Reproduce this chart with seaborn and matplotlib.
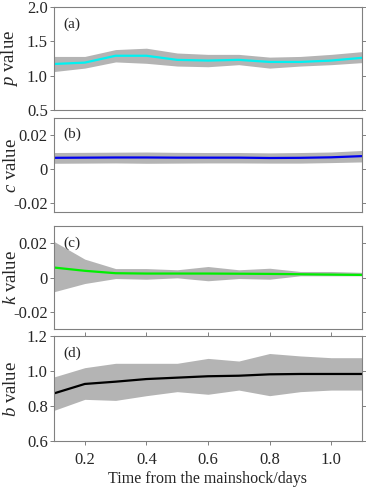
import numpy as np
import pandas as pd
import matplotlib
matplotlib.use("Agg")
import matplotlib.pyplot as plt
import seaborn as sns

sns.set_style("ticks")
plt.rcParams['font.family'] = ['Liberation Serif', 'DejaVu Serif']
plt.rcParams['mathtext.fontset'] = 'custom'
plt.rcParams['mathtext.rm'] = 'Liberation Serif'
plt.rcParams['mathtext.it'] = 'Liberation Serif:italic'

time = [0.1, 0.2, 0.3, 0.4, 0.5, 0.6, 0.7, 0.8, 0.9, 1.0, 1.1]

p_val = [1.17, 1.19, 1.29, 1.29, 1.23, 1.22, 1.23, 1.20, 1.20, 1.22, 1.26]
p_up = [1.28, 1.28, 1.38, 1.40, 1.33, 1.31, 1.31, 1.27, 1.28, 1.31, 1.35]
p_lo = [1.06, 1.11, 1.20, 1.18, 1.14, 1.13, 1.16, 1.11, 1.14, 1.16, 1.19]

c_val = [0.0067, 0.0068, 0.0069, 0.0069, 0.0068, 0.0068, 0.0068, 0.0066, 0.0067, 0.0070, 0.0077]
c_up = [0.0098, 0.0099, 0.0100, 0.0101, 0.0099, 0.0098, 0.0098, 0.0096, 0.0098, 0.0101, 0.0110]
c_lo = [0.0035, 0.0036, 0.0037, 0.0035, 0.0036, 0.0037, 0.0037, 0.0036, 0.0036, 0.0039, 0.0043]

k_val = [0.0058, 0.0039, 0.0025, 0.0023, 0.0023, 0.0023, 0.0022, 0.0021, 0.0019, 0.0017, 0.0015]
k_up = [0.0210, 0.0107, 0.0052, 0.0052, 0.0045, 0.0064, 0.0045, 0.0054, 0.0035, 0.0035, 0.0030]
k_lo = [-0.0083, -0.0035, -0.0006, -0.0010, -0.0002, -0.0019, -0.0006, -0.0010, 0.0010, 0.0010, 0.0010]

b_val = [0.872, 0.926, 0.939, 0.954, 0.962, 0.970, 0.973, 0.981, 0.983, 0.983, 0.983]
b_up = [0.966, 1.019, 1.044, 1.044, 1.044, 1.072, 1.057, 1.100, 1.086, 1.076, 1.076]
b_lo = [0.775, 0.838, 0.832, 0.859, 0.882, 0.867, 0.891, 0.859, 0.882, 0.891, 0.891]

x_ticks = [0.2, 0.4, 0.6, 0.8, 1.0]
x_ticklabels = ["0.2", "0.4", "0.6", "0.8", "1.0"]

panels = [
    dict(tag="(a)", y=p_val, up=p_up, lo=p_lo, color="#00f2f2", ylab=r"$\it{p}$ value",
         ylim=(0.5, 2.0), yticks=[0.5, 1.0, 1.5, 2.0], ytl=["0.5", "1.0", "1.5", "2.0"],
         box=(7, 110)),
    dict(tag="(b)", y=c_val, up=c_up, lo=c_lo, color="#0000ee", ylab=r"$\it{c}$ value",
         ylim=(-0.025, 0.03), yticks=[-0.02, 0, 0.02], ytl=["-0.02", "0", "0.02"],
         box=(118, 212)),
    dict(tag="(c)", y=k_val, up=k_up, lo=k_lo, color="#00ee00", ylab=r"$\it{k}$ value",
         ylim=(-0.03, 0.03), yticks=[-0.02, 0, 0.02], ytl=["-0.02", "0", "0.02"],
         box=(226, 329)),
    dict(tag="(d)", y=b_val, up=b_up, lo=b_lo, color="black", ylab=r"$\it{b}$ value",
         ylim=(0.6, 1.2), yticks=[0.6, 0.8, 1.0, 1.2], ytl=["0.6", "0.8", "1.0", "1.2"],
         box=(336, 441)),
]

W, H = 366, 487
fig = plt.figure(figsize=(W / 100, H / 100), dpi=100)
left, right = 54, 362
spine_col = "#808080"
fs = 12

for i, pnl in enumerate(panels):
    top, bot = pnl["box"]
    ax = fig.add_axes([left / W, 1 - bot / H, (right - left) / W, (bot - top) / H])
    df = pd.DataFrame({"t": time, "v": pnl["y"]})
    ax.fill_between(time, pnl["lo"], pnl["up"], color="#b4b4b4", lw=0)
    sns.lineplot(data=df, x="t", y="v", ax=ax, color=pnl["color"], lw=1.6)
    ax.set_xlim(0.1, 1.1)
    ax.set_ylim(*pnl["ylim"])
    ax.set_yticks(pnl["yticks"])
    ax.set_yticklabels(pnl["ytl"], fontsize=fs)
    ax.set_ylabel(pnl["ylab"], fontsize=13.5)
    for s in ax.spines.values():
        s.set_color(spine_col)
        s.set_linewidth(0.8)
    ax.tick_params(axis="y", direction="out", length=3, width=0.7, color=spine_col,
                   right=True, left=True, pad=1.5)
    ax.text(0.03, 0.9, pnl["tag"], transform=ax.transAxes, fontsize=11,
            va="top", ha="left")
    if i == 3:
        ax.set_xticks(x_ticks)
        ax.set_xticklabels(x_ticklabels, fontsize=fs)
        ax.tick_params(axis="x", direction="out", length=3, width=0.7, color=spine_col,
                       top=True, bottom=True, pad=5)
        ax.set_xlabel("Time from the mainshock/days", fontsize=11.5, labelpad=2)
    else:
        ax.set_xticks([])
        ax.set_xlabel("")
    ax.yaxis.set_label_coords((20 - left) / (right - left), 0.5)

fig.savefig("out.png", dpi=100)
